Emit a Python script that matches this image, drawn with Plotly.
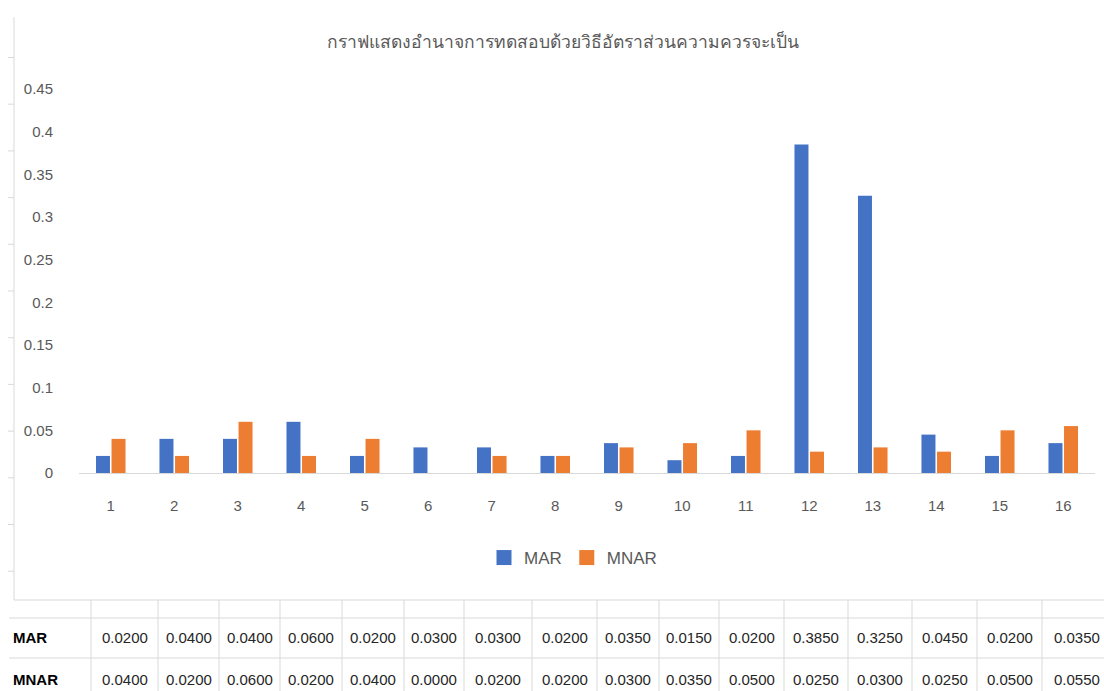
import plotly.graph_objects as go

# ---- data -------------------------------------------------------------
categories = [str(i) for i in range(1, 17)]
mar = [0.0200, 0.0400, 0.0400, 0.0600, 0.0200, 0.0300, 0.0300, 0.0200,
       0.0350, 0.0150, 0.0200, 0.3850, 0.3250, 0.0450, 0.0200, 0.0350]
mnar = [0.0400, 0.0200, 0.0600, 0.0200, 0.0400, 0.0000, 0.0200, 0.0200,
        0.0300, 0.0350, 0.0500, 0.0250, 0.0300, 0.0250, 0.0500, 0.0550]
series_names = ["MAR", "MNAR"]
y_tick_values = [0, 0.05, 0.1, 0.15, 0.2, 0.25, 0.3, 0.35, 0.4, 0.45]
y_tick_labels = ["0", "0.05", "0.1", "0.15", "0.2", "0.25", "0.3", "0.35", "0.4", "0.45"]
title_text = "กราฟแสดงอำนาจการทดสอบด้วยวิธีอัตราส่วนความควรจะเป็น"

# ---- layout constants (pixels) ---------------------------------------
W, H = 1104, 691
PL, PR, PT, PB = 79, 1095, 89, 473          # plot area edges
BLUE, ORANGE = "#4472C4", "#ED7D31"
GRID = "#D9D9D9"
TXT = "#595959"
FONT = "Liberation Sans, Arial, sans-serif"

# spreadsheet column edges under the chart
col_edges = [91, 158, 219, 280, 342, 404, 464, 532, 597, 659, 719, 784,
             848, 912, 977, 1042, 1112]
frame_left, frame_top, frame_bottom = 14, 17, 600
row_lines = [618, 658]


def px(x):
    return (x - PL) / (PR - PL)


def py(y):
    return (PB - y) / (PB - PT)


fig = go.Figure()
for name, vals, color in zip(series_names, [mar, mnar], [BLUE, ORANGE]):
    fig.add_trace(go.Bar(x=categories, y=vals, name=name, legendgroup=name,
                         showlegend=False,
                         marker=dict(color=color, line=dict(width=0))))
# square legend keys
for name, color in zip(series_names, [BLUE, ORANGE]):
    fig.add_trace(go.Scatter(x=[None], y=[None], mode="markers", name=name,
                             legendgroup=name,
                             marker=dict(symbol="square", size=15,
                                         color=color)))

shapes = []
line = dict(color=GRID, width=1)
# sheet frame: left edge with row ticks, bottom edge
shapes.append(dict(type="line", xref="paper", yref="paper",
                   x0=px(frame_left), x1=px(frame_left),
                   y0=py(frame_top), y1=py(frame_bottom), line=line))
shapes.append(dict(type="line", xref="paper", yref="paper",
                   x0=px(frame_left), x1=px(W),
                   y0=py(frame_bottom), y1=py(frame_bottom), line=line))
for k in range(12):
    yy = 57.5 + 46.7 * k
    shapes.append(dict(type="line", xref="paper", yref="paper",
                       x0=px(8), x1=px(frame_left), y0=py(yy), y1=py(yy),
                       line=line))
# data table grid
for yy in row_lines:
    shapes.append(dict(type="line", xref="paper", yref="paper",
                       x0=px(9), x1=px(W), y0=py(yy), y1=py(yy), line=line))
for xx in col_edges:
    shapes.append(dict(type="line", xref="paper", yref="paper",
                       x0=px(xx), x1=px(xx), y0=py(frame_bottom), y1=py(H),
                       line=line))

annotations = []
row_centers = [637, 679]
for r, (name, vals) in enumerate(zip(series_names, [mar, mnar])):
    annotations.append(dict(x=px(11), y=py(row_centers[r]), xref="paper",
                            yref="paper", text="<b>" + name + "</b>",
                            showarrow=False, xanchor="left", yanchor="middle",
                            font=dict(family=FONT, size=15, color="#000000")))
    for i, v in enumerate(vals):
        cx = (col_edges[i] + col_edges[i + 1]) / 2
        if i == len(vals) - 1:
            cx = 1077
        annotations.append(dict(x=px(cx), y=py(row_centers[r]), xref="paper",
                                yref="paper", text=f"{v:.4f}",
                                showarrow=False, xanchor="center",
                                yanchor="middle",
                                font=dict(family=FONT, size=15,
                                          color="#262626")))

fig.update_layout(
    width=W, height=H, autosize=False,
    margin=dict(l=PL, r=W - PR, t=PT, b=H - PB, pad=0),
    paper_bgcolor="white", plot_bgcolor="white",
    barmode="group", bargap=0.51, bargroupgap=0.1,
    title=dict(text=title_text, x=563 / W, xanchor="center",
               y=1 - 42 / H, yanchor="middle",
               font=dict(family=FONT, size=17.5, color=TXT)),
    xaxis=dict(showgrid=False, showline=True, linecolor=GRID, linewidth=1,
               ticks="outside", ticklen=19, tickcolor="rgba(0,0,0,0)",
               tickfont=dict(family=FONT, size=15, color=TXT),
               zeroline=False),
    yaxis=dict(range=[0, 0.45], tickvals=y_tick_values,
               ticktext=y_tick_labels, showgrid=False, zeroline=False,
               showline=False, ticks="outside", ticklen=22,
               tickcolor="rgba(0,0,0,0)",
               tickfont=dict(family=FONT, size=15, color=TXT)),
    legend=dict(orientation="h", x=px(573), xanchor="center",
                y=py(558), yanchor="middle",
                font=dict(family=FONT, size=17, color=TXT),
                itemwidth=30, traceorder="normal"),
    shapes=shapes, annotations=annotations,
)

fig.write_html("out.html")
